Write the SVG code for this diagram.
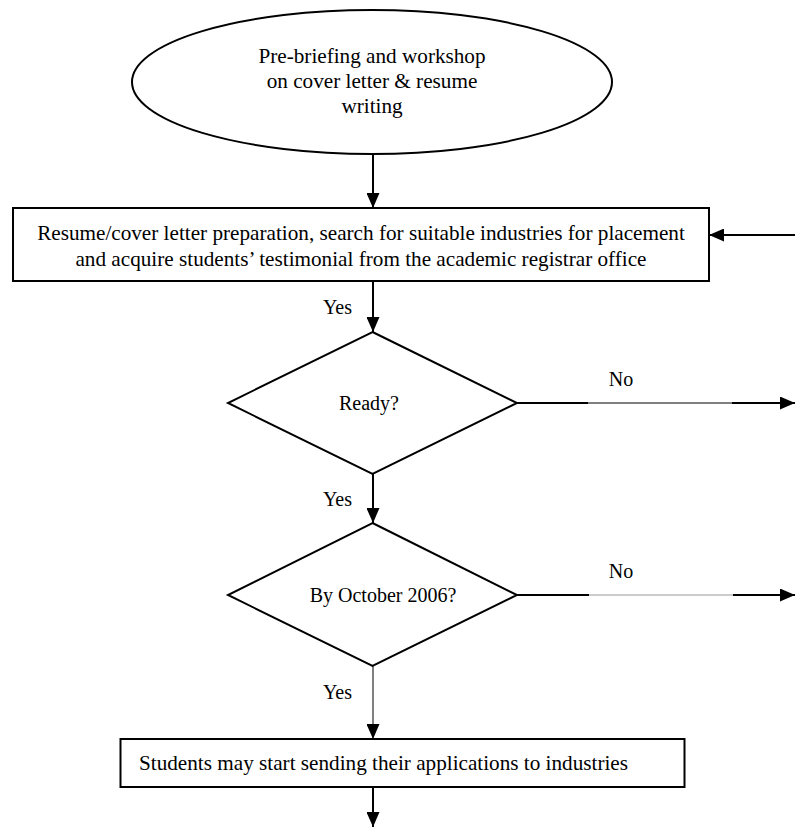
<svg xmlns="http://www.w3.org/2000/svg" width="795" height="827" viewBox="0 0 795 827">
<style>
.shape{fill:#fff;stroke:#000;stroke-width:2}
.ln{stroke:#000;stroke-width:2;fill:none}
.thin{stroke:#000;stroke-width:1;fill:none}
.gray{stroke:#999;stroke-width:1;fill:none}
text{font-family:"Liberation Serif","Times New Roman",serif;font-size:20px;fill:#000}
.big{font-size:21.2px}
.c{text-anchor:middle}
.e{text-anchor:end}
</style>
<defs>
<marker id="ah" viewBox="0 0 15 13" refX="15" refY="6.5" markerWidth="15" markerHeight="13" markerUnits="userSpaceOnUse" orient="auto">
<path d="M0,0 L15,6.5 L0,13 Z" fill="#000"/>
</marker>
</defs>
<rect width="795" height="827" fill="#fff"/>
<g id="start">
<ellipse class="shape" cx="372" cy="82" rx="240" ry="72"/>
<text class="c big" x="372" y="63">Pre-briefing and workshop</text>
<text class="c big" x="372" y="88">on cover letter &amp; resume</text>
<text class="c big" x="372" y="113">writing</text>
</g>
<g id="prep">
<rect class="shape" x="13" y="208" width="696" height="73"/>
<text class="c big" x="361" y="240">Resume/cover letter preparation, search for suitable industries for placement</text>
<text class="c big" x="361" y="266">and acquire students’ testimonial from the academic registrar office</text>
</g>
<g id="ready">
<polygon class="shape" points="372.5,332 517,403 372.5,474 228,403"/>
<text class="c" x="369" y="410">Ready?</text>
</g>
<g id="deadline">
<polygon class="shape" points="372.5,523 517,595 372.5,666 228,595"/>
<text class="c" x="383" y="602">By October 2006?</text>
</g>
<g id="send">
<rect class="shape" x="120.5" y="739" width="564" height="48"/>
<text class="big" x="139" y="770">Students may start sending their applications to industries</text>
</g>
<g id="connectors">
<line class="ln" x1="373" y1="154" x2="373" y2="208" marker-end="url(#ah)"/>
<line class="ln" x1="795" y1="235" x2="709" y2="235" marker-end="url(#ah)"/>
<line class="ln" x1="373" y1="281" x2="373" y2="332" marker-end="url(#ah)"/>
<text class="e" x="352" y="314">Yes</text>
<line class="ln" x1="517" y1="403" x2="588" y2="403"/>
<line class="thin" x1="588" y1="403" x2="732" y2="403"/>
<line class="ln" x1="732" y1="403" x2="795" y2="403" marker-end="url(#ah)"/>
<text class="c" x="621" y="386">No</text>
<line class="ln" x1="373" y1="474" x2="373" y2="523" marker-end="url(#ah)"/>
<text class="e" x="352" y="506">Yes</text>
<line class="ln" x1="517" y1="595" x2="589" y2="595"/>
<line class="gray" x1="589" y1="595" x2="733" y2="595"/>
<line class="ln" x1="733" y1="595" x2="795" y2="595" marker-end="url(#ah)"/>
<text class="c" x="621" y="578">No</text>
<line class="thin" x1="373" y1="666" x2="373" y2="739" marker-end="url(#ah)"/>
<text class="e" x="352" y="699">Yes</text>
<line class="ln" x1="373" y1="787" x2="373" y2="827" marker-end="url(#ah)"/>
</g>
</svg>
